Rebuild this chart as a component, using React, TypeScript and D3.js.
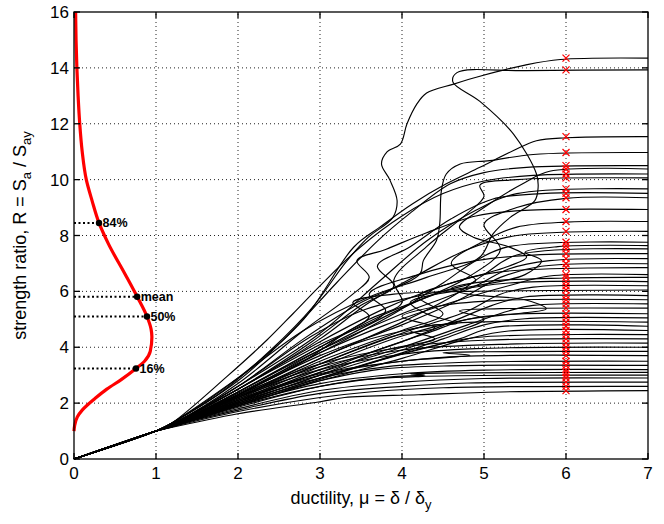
import React from "react";
import * as d3 from "d3";

const X_TICKS = [0, 1, 2, 3, 4, 5, 6, 7];
const Y_TICKS = [0, 2, 4, 6, 8, 10, 12, 14, 16];

// elastic branch common to all records
const ELASTIC: [number, number][] = [[0, 0], [1, 1]];

// IDA curves: flat [mu, R, mu, R, ...] after the elastic branch
const CURVES: number[][] = [
  [1.2,1.3, 1.8,2.4, 2.4,3.9, 2.9,5.4, 3.33,7.1, 3.59,7.94, 3.89,8.65, 3.94,9.25, 3.85,10.0, 3.75,10.56, 3.82,11.0, 3.98,11.27, 4.06,11.99, 4.18,12.7, 4.3,13.1, 4.63,13.42, 4.95,13.7, 5.5,14.1, 5.93,14.3, 7,14.35],
  [1.2,1.3, 2.0,2.9, 2.8,4.6, 3.6,5.8, 4.3,6.5, 4.95,7.23, 5.11,8.06, 5.32,8.65, 5.62,9.25, 5.66,9.72, 5.64,10.2, 5.36,11.63, 4.95,12.8, 4.62,13.5, 4.67,13.83, 5.5,13.9, 7,13.93],
  [1.2,1.3, 2,2.9, 2.8,5.0, 3.41,7.58, 3.73,8.3, 4.13,9.14, 4.54,9.85, 4.95,10.44, 5.36,11.04, 5.64,11.39, 6,11.5, 7,11.54],
  [1.2,1.25, 2,2.6, 2.8,4.3, 3.5,5.6, 4.22,6.63, 4.26,7.1, 4.42,7.82, 4.46,8.42, 4.48,9.6, 4.54,10.2, 4.71,10.56, 5.07,10.68, 5.6,10.9, 7,10.97],
  [1.2,1.3, 2,2.8, 2.6,4.4, 3.2,6.3, 3.7,7.8, 4.1,8.8, 4.59,9.85, 5.0,10.25, 5.52,10.44, 7,10.5],
  [1.2,1.25, 2,2.5, 3,4.2, 3.8,5.4, 4.5,6.2, 5.3,6.9, 5.52,7.23, 5.3,7.6, 4.87,7.94, 4.7,8.3, 5.0,9.0, 5.5,9.9, 5.8,10.3, 7,10.38],
  [1.2,1.3, 1.86,2.94, 2.35,4.25, 2.67,5.2, 3.0,6.2, 3.49,7.58, 4.0,8.7, 4.5,9.5, 5.0,9.95, 5.6,10.15, 7,10.2],
  [1.2,1.25, 2,2.4, 3,4.0, 3.6,5.0, 4.0,5.6, 3.9,6.4, 4.3,7.6, 4.8,8.8, 5.0,9.4, 4.95,9.8, 5.4,10.0, 7,10.06],
  [1.2,1.25, 2,2.6, 3,4.5, 3.7,6.3, 4.3,7.8, 4.9,8.9, 5.4,9.5, 7,9.67],
  [1.2,1.25, 2,2.5, 2.9,4.2, 3.5,5.5, 3.9,6.2, 3.7,6.9, 4.1,7.6, 4.6,8.6, 5.1,9.3, 5.7,9.5, 7,9.51],
  [1.2,1.2, 2,2.3, 3,3.9, 4,5.4, 4.8,6.5, 5.2,7.5, 5.0,8.4, 5.4,9.0, 6,9.33, 7,9.35],
  [1.2,1.25, 2,2.7, 2.8,4.6, 3.4,5.9, 3.6,6.5, 3.45,7.1, 3.8,7.5, 4.3,8.1, 4.9,8.7, 5.5,8.9, 7,8.93],
  [1.2,1.2, 2,2.4, 3,4.0, 3.8,5.2, 4.5,6.0, 4.9,6.4, 4.6,7.0, 5.0,7.8, 5.4,8.3, 6,8.48, 7,8.5],
  [1.2,1.25, 2,2.5, 3,4.3, 3.6,5.6, 4.2,6.6, 4.8,7.5, 5.4,8.0, 7,8.15],
  [1.2,1.2, 2,2.3, 3,3.8, 3.9,5.2, 4.5,6.3, 4.9,7.1, 5.3,7.6, 7,7.76],
  [1.2,1.25, 2,2.6, 2.9,4.4, 3.5,5.3, 4.3,5.9, 4.9,6.2, 5.5,6.6, 5.7,7.1, 5.5,7.4, 5.9,7.6, 7,7.64],
  [1.2,1.2, 2,2.2, 3,3.6, 4,4.9, 4.6,5.8, 5.0,6.6, 5.4,7.3, 7,7.52],
  [1.2,1.25, 2,2.5, 3,4.1, 3.8,5.3, 3.6,5.9, 4.2,6.6, 4.9,7.1, 5.6,7.3, 7,7.35],
  [1.2,1.2, 2,2.4, 3,3.9, 4,5.2, 4.9,6.2, 5.3,6.8, 5.8,7.1, 7,7.17],
  [1.2,1.2, 2,2.3, 3,3.7, 4,4.8, 4.7,5.7, 5.2,6.5, 5.7,6.9, 7,6.99],
  [1.2,1.2, 2,2.2, 3,3.5, 4,4.6, 4.5,5.2, 4.2,5.8, 4.6,6.3, 5.2,6.7, 7,6.85],
  [1.2,1.2, 2,2.35, 3,3.8, 3.8,4.8, 4.6,5.6, 5.3,6.2, 5.8,6.55, 7,6.6],
  [1.2,1.18, 2,2.1, 3,3.3, 4,4.4, 4.8,5.0, 5.4,5.2, 5.76,5.38, 5.5,5.7, 4.8,5.9, 4.6,6.1, 5.0,6.35, 6,6.48, 7,6.5],
  [1.2,1.2, 2,2.25, 3,3.6, 3.5,4.2, 4.4,4.8, 4.67,4.85, 4.3,5.2, 4.1,5.6, 4.6,6.0, 5.3,6.3, 7,6.35],
  [1.2,1.2, 2,2.15, 3,3.4, 4,4.5, 4.8,5.3, 5.2,5.9, 5.6,6.15, 7,6.2],
  [1.2,1.2, 2,2.3, 2.8,3.5, 3.3,4.5, 3.6,5.1, 3.4,5.6, 3.9,5.9, 4.8,6.0, 7,6.05],
  [1.2,1.18, 2,2.05, 3,3.2, 4,4.2, 4.6,4.9, 5.1,5.5, 5.5,5.8, 7,5.85],
  [1.2,1.2, 2,2.2, 3,3.4, 3.9,4.4, 4.4,4.7, 4.0,5.1, 4.5,5.5, 5.2,5.68, 7,5.7],
  [1.2,1.18, 2,2.1, 3,3.1, 4,4.0, 4.8,4.8, 5.3,5.3, 5.6,5.5, 7,5.55],
  [1.2,1.18, 2,2.0, 3,3.0, 4,3.9, 4.6,4.5, 5.0,5.0, 4.7,5.3, 5.2,5.38, 7,5.4],
  [1.2,1.18, 2,2.05, 3,3.1, 3.7,3.9, 4.3,4.5, 4.8,5.0, 5.3,5.18, 7,5.2],
  [1.2,1.17, 2,1.95, 3,2.9, 4,3.8, 4.5,4.3, 5.0,4.8, 5.5,5.02, 7,5.05],
  [1.2,1.17, 2,2.0, 3,3.0, 3.8,3.9, 4.4,4.3, 4.1,4.6, 4.6,4.85, 7,4.9],
  [1.2,1.17, 2,1.95, 3,2.9, 4,3.75, 4.7,4.3, 5.1,4.7, 7,4.75],
  [1.2,1.16, 2,1.9, 3,2.8, 4,3.6, 4.8,4.3, 5.3,4.58, 7,4.6],
  [1.2,1.16, 2,1.9, 3,2.85, 3.8,3.6, 4.3,4.0, 4.9,4.35, 7,4.45],
  [1.15,1.15, 2,2.3, 3,3.4, 4,4.0, 5,4.25, 7,4.3],
  [1.15,1.15, 2,2.25, 3,3.3, 4,3.9, 5.4,4.12, 7,4.15],
  [1.1,1.14, 2,2.2, 3,3.2, 4,3.75, 4.9,3.95, 7,4.0],
  [1.1,1.14, 2,2.15, 3,3.05, 4,3.5, 4.83,3.71, 4.5,3.8, 5.0,3.84, 7,3.85],
  [1.1,1.13, 2,2.1, 3,3.0, 4,3.5, 4.8,3.68, 7,3.7],
  [1.1,1.13, 2,2.05, 3,2.9, 3.8,3.3, 4.4,3.42, 5,3.48, 7,3.5],
  [1.1,1.12, 2,2.0, 3,2.8, 3.7,3.2, 4.5,3.33, 7,3.35],
  [1.1,1.12, 2,1.95, 3,2.7, 4,3.05, 5,3.18, 7,3.2],
  [1.1,1.12, 2,1.9, 3,2.6, 3.9,2.95, 4.28,3.0, 4.1,3.05, 4.6,3.08, 7,3.1],
  [1.1,1.1, 2,1.85, 2.7,2.4, 3.4,2.8, 4.2,2.95, 7,3.0],
  [1.1,1.1, 2,1.8, 3,2.45, 4,2.75, 5,2.88, 7,2.9],
  [1.1,1.1, 2,1.75, 3,2.35, 4,2.6, 4.8,2.72, 7,2.75],
  [1.1,1.08, 2,1.7, 3,2.2, 3.6,2.4, 4.5,2.55, 7,2.6],
  [1.1,1.07, 2,1.62, 3,2.05, 3.3,2.2, 4.2,2.3, 5.2,2.4, 7,2.45],
];

// capacity points at mu = 6 (red crosses)
const CAP_MU = 6;
const CAP_R = [14.35, 13.93, 11.54, 10.97, 10.5, 10.38, 10.2, 10.06, 9.67, 9.51, 9.35, 8.93, 8.5, 8.15, 7.76, 7.64, 7.52, 7.35, 7.17, 6.99,
  6.85, 6.6, 6.5, 6.35, 6.2, 6.05, 5.85, 5.7, 5.55, 5.4, 5.2, 5.05, 4.9, 4.75, 4.6, 4.45, 4.3, 4.15, 4.0, 3.85, 3.7, 3.5, 3.35, 3.2, 3.1, 3.0, 2.9, 2.75, 2.6, 2.45];

// fitted distribution of R drawn sideways: [scaled density, R]
const PDF_X = [0, 0.008, 0.04, 0.1, 0.17, 0.25, 0.4, 0.58, 0.756, 0.86, 0.93, 0.95, 0.94, 0.89, 0.77, 0.62, 0.42, 0.305, 0.22, 0.15, 0.1, 0.07, 0.05, 0.035, 0.025, 0.02];
const PDF_R = [1.0, 1.2, 1.5, 1.75, 1.95, 2.15, 2.5, 2.85, 3.24, 3.5, 3.85, 4.37, 4.65, 5.1, 5.81, 6.63, 7.7, 8.45, 9.25, 10, 11, 12, 13, 14, 15, 16];

const STAT_LABELS = ["84%", "mean", "50%", "16%"];
const STAT_R = [8.45, 5.81, 5.1, 3.24];
const STAT_X = [0.305, 0.77, 0.89, 0.756];

const W = 664, H = 524;
const ML = 74, MR = 648, MT = 12, MB = 459;

export default function App() {
  const x = d3.scaleLinear().domain([0, 7]).range([ML, MR]);
  const y = d3.scaleLinear().domain([0, 16]).range([MB, MT]);
  const line = d3.line<[number, number]>().x(d => x(d[0])).y(d => y(d[1])).curve(d3.curveCatmullRom.alpha(0.5));
  const straight = d3.line<[number, number]>().x(d => x(d[0])).y(d => y(d[1]));
  const pdfPts: [number, number][] = PDF_X.map((v, i) => [v, PDF_R[i]]);
  const pdfLine = d3.line<[number, number]>().x(d => x(d[0])).y(d => y(d[1])).curve(d3.curveMonotoneY);
  const font = "'Liberation Sans', Arial, Helvetica, sans-serif";

  return (
    <svg width={W} height={H} style={{ position: "absolute", left: 0, top: 0, background: "#fff" }} fontFamily={font}>
      <rect x={0} y={0} width={W} height={H} fill="#fff" />
      {/* grid */}
      <g stroke="#222" strokeWidth={1} strokeDasharray="1 3">
        {X_TICKS.slice(1, -1).map(t => (
          <line key={"gx" + t} x1={x(t)} x2={x(t)} y1={MB} y2={MT} />
        ))}
        {Y_TICKS.slice(1, -1).map(t => (
          <line key={"gy" + t} x1={ML} x2={MR} y1={y(t)} y2={y(t)} />
        ))}
      </g>
      {/* IDA curves */}
      <g fill="none" stroke="#000" strokeWidth={1.15}>
        {CURVES.map((c, i) => {
          const pts: [number, number][] = [...ELASTIC];
          for (let k = 0; k < c.length; k += 2) pts.push([c[k], c[k + 1]]);
          return <path key={"c" + i} d={line(pts) || ""} />;
        })}
      </g>
      {/* capacity crosses */}
      <g stroke="#ff0000" strokeWidth={1.2}>
        {CAP_R.map((r, i) => {
          const cx = x(CAP_MU), cy = y(r), s = 3.5;
          return (
            <g key={"x" + i}>
              <line x1={cx - s} y1={cy - s} x2={cx + s} y2={cy + s} />
              <line x1={cx - s} y1={cy + s} x2={cx + s} y2={cy - s} />
            </g>
          );
        })}
      </g>
      {/* distribution */}
      <path d={pdfLine(pdfPts) || ""} fill="none" stroke="#ff0000" strokeWidth={3.2} />
      {/* statistics */}
      <g>
        {STAT_R.map((r, i) => (
          <g key={"s" + i}>
            <path d={straight([[0, r], [STAT_X[i], r]]) || ""} stroke="#000" strokeWidth={2} strokeDasharray="2 2.5" fill="none" />
            <circle cx={x(STAT_X[i])} cy={y(r)} r={3.2} fill="#000" />
            <text x={x(STAT_X[i]) + 3.5} y={y(r) + 4.5} fontSize={12.5} fontWeight="bold" fill="#000">{STAT_LABELS[i]}</text>
          </g>
        ))}
      </g>
      {/* frame and ticks */}
      <g stroke="#000" strokeWidth={1.3}>
        <rect x={ML} y={MT} width={MR - ML} height={MB - MT} fill="none" />
        {X_TICKS.map(t => (
          <g key={"tx" + t}>
            <line x1={x(t)} x2={x(t)} y1={MB} y2={MB - 6} />
            <line x1={x(t)} x2={x(t)} y1={MT} y2={MT + 6} />
          </g>
        ))}
        {Y_TICKS.map(t => (
          <g key={"ty" + t}>
            <line x1={ML} x2={ML + 6} y1={y(t)} y2={y(t)} />
            <line x1={MR} x2={MR - 6} y1={y(t)} y2={y(t)} />
          </g>
        ))}
      </g>
      <g fontSize={17} fill="#000">
        {X_TICKS.map(t => (
          <text key={"lx" + t} x={x(t)} y={MB + 20} textAnchor="middle">{t}</text>
        ))}
        {Y_TICKS.map(t => (
          <text key={"ly" + t} x={ML - 5} y={y(t) + 6} textAnchor="end">{t}</text>
        ))}
      </g>
      <text x={(ML + MR) / 2} y={504} textAnchor="middle" fontSize={18} fill="#000">
        ductility, μ = δ / δ<tspan dy={5} fontSize={13}>y</tspan>
      </text>
      <text transform={`translate(26, ${(MT + MB) / 2}) rotate(-90)`} textAnchor="middle" fontSize={18} fill="#000">
        strength ratio, R = S<tspan dy={5} fontSize={13}>a</tspan><tspan dy={-5}> / S</tspan><tspan dy={5} fontSize={13}>ay</tspan>
      </text>
    </svg>
  );
}
